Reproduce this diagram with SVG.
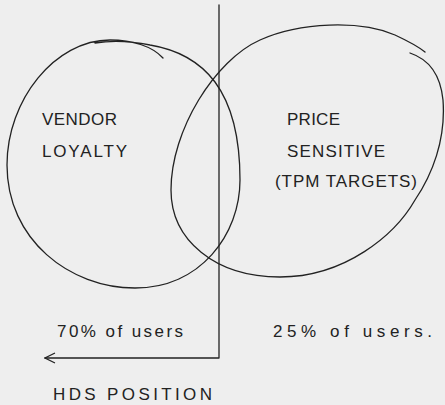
<svg xmlns="http://www.w3.org/2000/svg" width="445" height="405" viewBox="0 0 445 405">
<style>
.ink{fill:none;stroke:#222;stroke-width:1.3;stroke-linecap:round;stroke-linejoin:round}
.t{font-family:"Liberation Sans",Arial,sans-serif;font-size:17px;fill:#222}
</style>
<defs>
<marker id="arr" viewBox="0 0 12 12" refX="11" refY="6" markerWidth="12" markerHeight="12" markerUnits="userSpaceOnUse" orient="auto">
<path d="M1,1 L11,6 L1,11" fill="none" stroke="#222" stroke-width="1.2"/>
</marker>
</defs>
<rect width="445" height="405" fill="#eeeeee"/>
<g id="vendor-loyalty">
<path class="ink" d="M163,58 C152,46 132,40 110,40 C55,40 7,100 7,165 C7,240 70,288 135,288 C200,288 240,235 240,180 C240,140 232,105 215,82 C200,62 180,50 150,45 C135,42 115,40 95,43"/>
<text class="t" x="42" y="125" textLength="75" lengthAdjust="spacing">VENDOR</text>
<text class="t" x="42" y="157" textLength="85" lengthAdjust="spacing">LOYALTY</text>
</g>
<g id="price-sensitive">
<path class="ink" d="M410,53 C425,58 440,70 443,100 C446,140 432,175 415,200 C395,235 345,277 280,277 C215,277 171,240 171,190 C171,130 215,60 260,40 C300,22 360,20 395,35 C410,42 420,48 425,52"/>
<text class="t" x="287" y="125" textLength="53" lengthAdjust="spacing">PRICE</text>
<text class="t" x="287" y="157" textLength="98" lengthAdjust="spacing">SENSITIVE</text>
<text class="t" x="275" y="187" textLength="142" lengthAdjust="spacing">(TPM TARGETS)</text>
</g>
<g id="connectors">
<path class="ink" d="M219,5 L219,358 L45,358" marker-end="url(#arr)"/>
</g>
<g id="labels">
<text class="t" x="57" y="337" textLength="126" lengthAdjust="spacing">70% of users</text>
<text class="t" x="273" y="337" textLength="159" lengthAdjust="spacing">25% of users.</text>
<text class="t" x="53" y="400" textLength="159" lengthAdjust="spacing">HDS  POSITION</text>
</g>
</svg>
